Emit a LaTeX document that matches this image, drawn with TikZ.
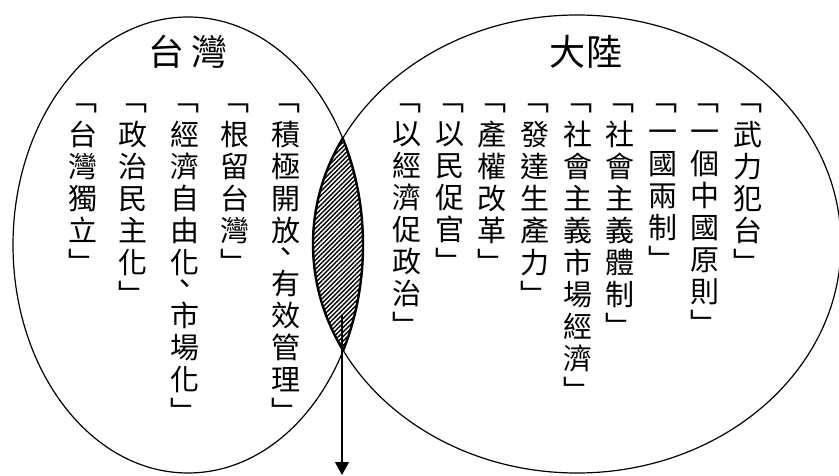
\documentclass[tikz,border=0pt]{standalone}
\usepackage{fontspec}
\newfontfamily\cjk{Noto Sans CJK TC}
\usetikzlibrary{arrows.meta}
\usetikzlibrary{patterns.meta}

\begin{document}
\begin{tikzpicture}[x=1pt,y=-1pt,
  col/.style={font=\cjk\fontsize{29}{32}\selectfont, align=center, inner sep=0pt, anchor=north},
  title/.style={font=\cjk\fontsize{36}{36}\selectfont, inner sep=0pt},
  rim/.style={line width=1.2pt}]

\useasboundingbox (0,0) rectangle (839,476);

\coordinate (tw) at (188,245);
\coordinate (cn) at (577,244);

% shared part
\begin{scope}
\clip (tw) ellipse [x radius=175pt, y radius=228pt];
\fill[pattern={Lines[angle=45,distance=3.2pt,line width=1.4pt]}] (cn) ellipse [x radius=264pt, y radius=229pt];
\draw[line width=2.4pt] (cn) ellipse [x radius=264pt, y radius=229pt];
\end{scope}
\begin{scope}
\clip (cn) ellipse [x radius=264pt, y radius=229pt];
\draw[line width=2.4pt] (tw) ellipse [x radius=175pt, y radius=228pt];
\end{scope}

\draw[rim] (tw) ellipse [x radius=175pt, y radius=228pt];
\draw[rim] (cn) ellipse [x radius=264pt, y radius=229pt];

\node[title] (twt) at (188,52) {台\hspace{7pt}灣};
\node[title] (cnt) at (586,52) {大\hspace{2pt}陸};

% Taiwan
\node[col] (tw1) at (83,88) {\strut﹁\\台\\灣\\獨\\立\\﹂};
\node[col] (tw2) at (133,88) {\strut﹁\\政\\治\\民\\主\\化\\﹂};
\node[col] (tw3) at (185,88) {\strut﹁\\經\\濟\\自\\由\\化\\[-11pt]、\\市\\場\\化\\﹂};
\node[col] (tw4) at (235,88) {\strut﹁\\根\\留\\台\\灣\\﹂};
\node[col] (tw5) at (286,88) {\strut﹁\\積\\極\\開\\放\\[-11pt]、\\有\\效\\管\\理\\﹂};

% mainland
\node[col] (cn1) at (407,88) {\strut﹁\\以\\經\\濟\\促\\政\\治\\﹂};
\node[col] (cn2) at (450,88) {\strut﹁\\以\\民\\促\\官\\﹂};
\node[col] (cn3) at (492,88) {\strut﹁\\產\\權\\改\\革\\﹂};
\node[col] (cn4) at (535,88) {\strut﹁\\發\\達\\生\\產\\力\\﹂};
\node[col] (cn5) at (578,88) {\strut﹁\\社\\會\\主\\義\\市\\場\\經\\濟\\﹂};
\node[col] (cn6) at (620,88) {\strut﹁\\社\\會\\主\\義\\體\\制\\﹂};
\node[col] (cn7) at (663,88) {\strut﹁\\一\\國\\兩\\制\\﹂};
\node[col] (cn8) at (705,88) {\strut﹁\\一\\個\\中\\國\\原\\則\\﹂};
\node[col] (cn9) at (748,88) {\strut﹁\\武\\力\\犯\\台\\﹂};

\coordinate (lens) at (342,315);
\coordinate (out) at (342,475);
\draw[rim,-{Triangle[length=13pt,width=14pt]}] (lens) -- (out);

\end{tikzpicture}
\end{document}
